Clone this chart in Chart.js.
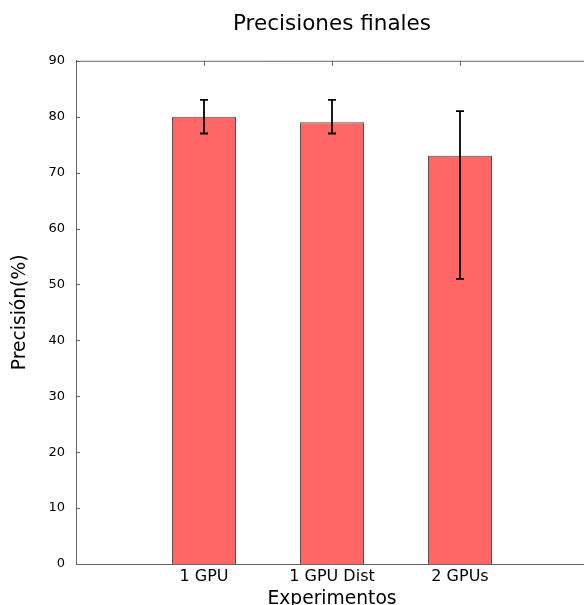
<!DOCTYPE html>
<html>
<head>
<meta charset="utf-8">
<title>Precisiones finales</title>
<script src="https://cdn.jsdelivr.net/npm/chart.js@4.4.0/dist/chart.umd.min.js"></script>
<style>
  html, body { margin: 0; padding: 0; overflow: hidden; background: #fff; }
  #wrap { width: 584px; height: 605px; overflow: hidden; }
</style>
</head>
<body>
<div id="wrap"><canvas id="chart" width="592" height="605"></canvas></div>
<script>
// Datos
const categories = ['1 GPU', '1 GPU Dist', '2 GPUs'];
const precision = [80, 79, 73];
const errLow = [77, 77, 51];
const errHigh = [83, 83, 81];
const yTickValues = [0, 10, 20, 30, 40, 50, 60, 70, 80, 90];

const FONT = "'DejaVu Sans', sans-serif";
const SPINE = '#666666';

// Barras de error + marcas de eje hacia dentro (estilo matplotlib)
const extras = {
  id: 'extras',
  afterDatasetsDraw(chart) {
    const { ctx, chartArea: a, scales: { x, y } } = chart;
    ctx.save();

    // barras de error
    ctx.strokeStyle = '#000';
    ctx.lineWidth = 1.8;
    categories.forEach((c, i) => {
      const px = x.getPixelForValue(i);
      const top = y.getPixelForValue(errHigh[i]);
      const bot = y.getPixelForValue(errLow[i]);
      ctx.beginPath();
      ctx.moveTo(px, top); ctx.lineTo(px, bot);
      ctx.moveTo(px - 4, top); ctx.lineTo(px + 4, top);
      ctx.moveTo(px - 4, bot); ctx.lineTo(px + 4, bot);
      ctx.stroke();
    });

    // bordes superior y derecho
    ctx.strokeStyle = SPINE;
    ctx.lineWidth = 1;
    ctx.beginPath();
    ctx.moveTo(a.left, a.top + 0.5); ctx.lineTo(a.right, a.top + 0.5);
    ctx.moveTo(a.right - 0.5, a.top); ctx.lineTo(a.right - 0.5, a.bottom);
    ctx.stroke();

    // marcas del eje y (izquierda y derecha)
    ctx.beginPath();
    yTickValues.forEach(v => {
      const py = Math.round(y.getPixelForValue(v)) + 0.5;
      ctx.moveTo(a.left, py); ctx.lineTo(a.left + 4, py);
      ctx.moveTo(a.right - 4, py); ctx.lineTo(a.right, py);
    });
    // marcas superiores en cada categoría
    categories.forEach((c, i) => {
      const px = Math.round(x.getPixelForValue(i)) + 0.5;
      ctx.moveTo(px, a.top); ctx.lineTo(px, a.top + 5);
    });
    ctx.stroke();
    ctx.restore();
  }
};

new Chart(document.getElementById('chart'), {
  type: 'bar',
  data: {
    datasets: [{
      label: 'Precisión',
      data: precision.map((v, i) => ({ x: i, y: v })),
      backgroundColor: '#ff6666',
      borderColor: 'rgba(50,50,50,0.85)',
      borderWidth: 1,
      barPercentage: 0.5,
      categoryPercentage: 1
    }]
  },
  options: {
    responsive: false,
    animation: false,
    layout: { padding: { left: 0, right: 4, top: 0, bottom: 0 } },
    plugins: {
      legend: { display: false },
      tooltip: { enabled: false },
      title: {
        display: true,
        fullSize: false,
        text: 'Precisiones finales',
        color: '#000',
        font: { family: FONT, size: 21.5, weight: 'normal' },
        padding: { top: 12, bottom: 23 }
      }
    },
    scales: {
      x: {
        type: 'linear',
        offset: false,
        min: -1,
        max: 3,
        grid: { display: false, drawTicks: false, offset: false },
        border: { color: SPINE, width: 1 },
        ticks: {
          stepSize: 1,
          autoSkip: false,
          padding: 3,
          color: '#000',
          font: { family: FONT, size: 16 },
          callback: v => categories[v] ?? ''
        },
        title: {
          display: true,
          text: 'Experimentos',
          color: '#000',
          font: { family: FONT, size: 18.7 },
          padding: { top: 0, bottom: -5 }
        },
        afterFit: s => { s.height = 41; }
      },
      y: {
        min: 0,
        max: 90,
        grid: { display: false, drawTicks: false },
        border: { color: SPINE, width: 1 },
        ticks: {
          stepSize: 10,
          padding: 11,
          color: '#000',
          font: { family: FONT, size: 13 }
        },
        title: {
          display: true,
          text: 'Precisión(%)',
          color: '#000',
          font: { family: FONT, size: 18.7 },
          padding: { top: 9, bottom: 0 }
        },
        afterFit: s => { s.width = 76; }
      }
    }
  },
  plugins: [extras]
});
</script>
</body>
</html>
